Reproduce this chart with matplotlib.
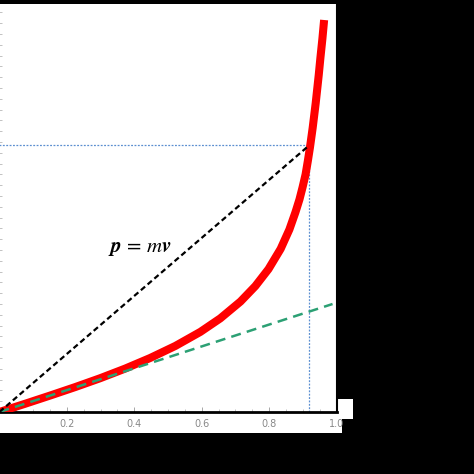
import numpy as np
import matplotlib
matplotlib.use("Agg")
import matplotlib.pyplot as plt
from matplotlib.patches import Rectangle

plt.rcParams['mathtext.fontset'] = 'stix'

# momentum p (in units of mc) vs speed v (in units of c)
v_curve = [0.0, 0.076, 0.150, 0.225, 0.299, 0.373, 0.447, 0.522, 0.596,
           0.655, 0.715, 0.759, 0.798, 0.834, 0.860, 0.878, 0.890, 0.899,
           0.908, 0.915, 0.921, 0.929, 0.938, 0.947, 0.952, 0.958, 0.963]
p_curve = [0.0, 0.076, 0.152, 0.231, 0.313, 0.402, 0.500, 0.612, 0.742,
           0.867, 1.023, 1.166, 1.323, 1.510, 1.690, 1.850, 1.970, 2.080,
           2.200, 2.330, 2.450, 2.630, 2.860, 3.120, 3.280, 3.460, 3.630]

# classical p = mv tangent
v_classic = [0.0, 0.988]
p_classic = [0.0, 1.0]

# marked point on the curve
v_mark = 0.919
p_mark = 2.47

xtick_vals = [0.2, 0.4, 0.6, 0.8, 1.0]
xtick_labels = ['0.2', '0.4', '0.6', '0.8', '1.0']

fig = plt.figure(figsize=(4.74, 4.74), dpi=100, facecolor='black')

# white strips behind the tick labels
fig.patches.append(Rectangle((0, 41 / 474), 342 / 474, 21 / 474,
                             transform=fig.transFigure, facecolor='white',
                             edgecolor='none', zorder=-1))
fig.patches.append(Rectangle((337 / 474, 55 / 474), 16 / 474, 20 / 474,
                             transform=fig.transFigure, facecolor='white',
                             edgecolor='none', zorder=-1))

ax = fig.add_axes([-0.6 / 474, 62 / 474, 337.2 / 474, 408.2 / 474])
ax.set_facecolor('white')

dot_style = dict(color='#5b8fd0', lw=0.9, linestyle=(0, (1.5, 1.2)), zorder=2)
ax.plot([0, v_mark], [p_mark, p_mark], **dot_style)
ax.plot([v_mark, v_mark], [0, p_mark], **dot_style)
ax.plot(v_curve, p_curve, color='#ff0000', lw=5.8, solid_capstyle='butt',
        solid_joinstyle='round', zorder=3)
ax.plot(v_classic, p_classic, color='#2ca074', lw=1.8,
        linestyle=(0, (4, 2.5)), zorder=4)
ax.plot([0, v_mark], [0, p_mark], color='black', lw=1.6,
        linestyle=(0, (2.5, 1.5)), zorder=4)

ax.text(0.322, 1.52, r'$\boldsymbol{p}\,=\,m\boldsymbol{v}$', fontsize=15,
        ha='left', va='center', color='black')

ax.set_xlim(0, 1.0)
ax.set_ylim(0, 3.78)

ax.set_xticks(xtick_vals)
ax.set_xticklabels(xtick_labels, family=['Liberation Sans Narrow', 'DejaVu Sans'])
ax.set_xticks(np.arange(0.05, 1.0, 0.05), minor=True)
ax.set_yticks(np.arange(0.1, 3.78, 0.1))
ax.set_yticklabels([])
ax.tick_params(axis='x', which='major', direction='in', length=3.5, width=0.6,
               color='#999999', labelsize=7, labelcolor='#888888', pad=5)
ax.tick_params(axis='x', which='minor', direction='in', length=2, width=0.5,
               color='#aaaaaa')
ax.tick_params(axis='y', direction='in', length=2.5, width=0.5, color='#aaaaaa')

ax.spines['left'].set_visible(False)
ax.spines['top'].set_visible(False)
ax.spines['right'].set_linewidth(1.5)
ax.spines['bottom'].set_linewidth(2)

fig.savefig('out.png', dpi=100, facecolor='black')
